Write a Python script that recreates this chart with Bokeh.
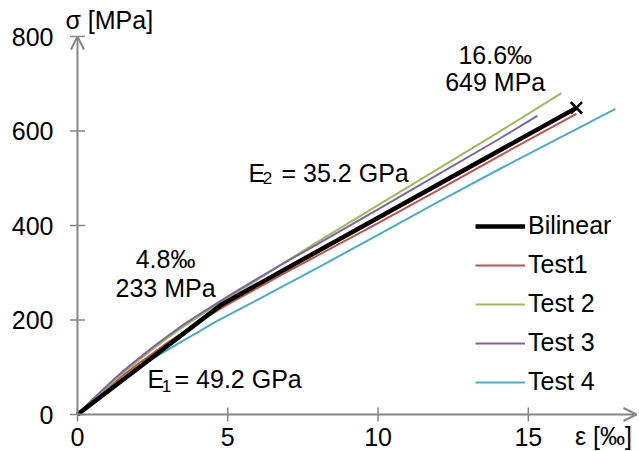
import math
from bokeh.plotting import figure
from bokeh.models import Range1d, Arrow, OpenHead, Label, Legend, LegendItem
from bokeh.embed import file_html
from bokeh.resources import INLINE
from bokeh.core.properties import value

# ---------------- data ----------------
bilinear_eps = [0, 4.8, 16.6]
bilinear_sig = [0, 233, 649]

test1_eps = [0, 0.5, 1, 1.5, 2, 2.5, 3, 3.5, 4, 4.5, 5, 6, 7, 8, 10, 12, 14, 16.6]
test1_sig = [0, 29, 56, 82, 106, 129, 152, 173, 194, 214, 233, 268, 303, 337, 405, 475, 546, 636]
test2_eps = [0, 0.5, 1, 1.5, 2, 2.5, 3, 3.5, 4, 4.5, 5, 6, 7, 8, 10, 12, 14, 16.1]
test2_sig = [0, 30, 59, 87, 113, 138, 162, 185, 206, 227, 247, 286, 326, 366, 443, 520, 597, 680]
test3_eps = [0, 0.5, 1, 1.5, 2, 2.5, 3, 3.5, 4, 4.5, 5, 6, 7, 8, 10, 12, 14, 15.3]
test3_sig = [0, 32, 62, 91, 117, 142, 166, 189, 210, 230, 250, 288, 325, 361, 434, 508, 582, 632]
test4_eps = [0, 0.5, 1, 1.5, 2, 2.5, 3, 3.5, 4, 4.5, 5, 6, 7, 8, 10, 12, 14, 17.9]
test4_sig = [0, 26, 51, 75, 97, 118, 137, 156, 174, 193, 210, 243, 277, 311, 380, 450, 518, 647]

x_ticks = [0, 5, 10, 15]
y_ticks = [0, 200, 400, 600, 800]
x_tick_labels = ["0", "5", "10", "15"]
y_tick_labels = ["0", "200", "400", "600", "800"]
x_max = 18.6
y_max = 800

FONT = "Liberation Sans"
FS = "25px"
AX = "#868686"

p = figure(width=639, height=451, output_backend="svg", toolbar_location=None,
           x_range=Range1d(-2.562, 18.70), y_range=Range1d(-78.3, 876.2),
           min_border=0, min_border_left=0, min_border_right=0,
           min_border_top=0, min_border_bottom=0)
p.outline_line_color = None
p.grid.visible = False
p.axis.visible = False
p.background_fill_color = "white"
p.border_fill_color = "white"

# axes with arrows
p.add_layout(Arrow(x_start=0, y_start=0, x_end=0, y_end=y_max, line_color=AX, line_width=2,
                   end=OpenHead(size=13, line_color=AX, line_width=2)))
p.add_layout(Arrow(x_start=0, y_start=0, x_end=x_max, y_end=0, line_color=AX, line_width=2,
                   end=OpenHead(size=13, line_color=AX, line_width=2)))
# tick marks
p.scatter(x_ticks, [0] * len(x_ticks), marker="dash", size=14, angle=math.pi / 2,
          line_color=AX, line_width=1.5)
p.scatter([0] * len(y_ticks), y_ticks, marker="dash", size=15,
          line_color=AX, line_width=1.5)
# tick labels
p.text(x_ticks, [0] * len(x_ticks), text=x_tick_labels, y_offset=22,
       text_align="center", text_baseline="middle", text_font=value(FONT),
       text_font_size=FS, text_color="black")
p.text([0] * len(y_ticks), y_ticks, text=y_tick_labels, x_offset=-24,
       text_align="right", text_baseline="middle", text_font=value(FONT),
       text_font_size=FS, text_color="black")

r1 = p.line(test1_eps, test1_sig, line_color="#C0504D", line_width=2)
r2 = p.line(test2_eps, test2_sig, line_color="#9BBB59", line_width=2)
r3 = p.line(test3_eps, test3_sig, line_color="#8064A2", line_width=2)
r4 = p.line(test4_eps, test4_sig, line_color="#4BACC6", line_width=2)
rb = p.line(bilinear_eps, bilinear_sig, line_color="black", line_width=4.5)
p.scatter([bilinear_eps[-1]], [bilinear_sig[-1]], marker="x", size=16, line_color="black", line_width=2.5)

legend = Legend(items=[LegendItem(label="Bilinear", renderers=[rb]),
                       LegendItem(label="Test1", renderers=[r1]),
                       LegendItem(label="Test 2", renderers=[r2]),
                       LegendItem(label="Test 3", renderers=[r3]),
                       LegendItem(label="Test 4", renderers=[r4])],
                location=(475, 55))
legend.background_fill_alpha = 0
legend.border_line_color = None
legend.padding = 0
legend.margin = 0
legend.spacing = 10
legend.glyph_width = 50
legend.glyph_height = 24
legend.label_height = 24
legend.label_standoff = 3
legend.label_text_font = FONT
legend.label_text_font_size = FS
legend.label_text_color = "black"
p.add_layout(legend)


def lab(x, y, t, size=FS, align="center"):
    p.add_layout(Label(x=x, y=y, text=t, text_font=FONT, text_font_size=size,
                       text_align=align, text_baseline="middle", text_color="black"))


lab(13.9, 760, "16.6\u2030")
lab(13.9, 703, "649 MPa")
lab(2.93, 330, "4.8\u2030")
lab(2.93, 267, "233 MPa")

lab(2.33, 76, "E", align="left")
lab(2.80, 61, "1", size="17px", align="left")
lab(3.23, 76, "= 49.2 GPa", align="left")

lab(5.69, 512, "E", align="left")
lab(6.16, 501, "2", size="17px", align="left")
lab(6.79, 512, "= 35.2 GPa", align="left")

lab(-0.4, 834, "\u03c3 [MPa]", align="left")
lab(16.55, -46, "\u03b5 [\u2030]", align="left")

open("out.html", "w").write(file_html(p, INLINE))
